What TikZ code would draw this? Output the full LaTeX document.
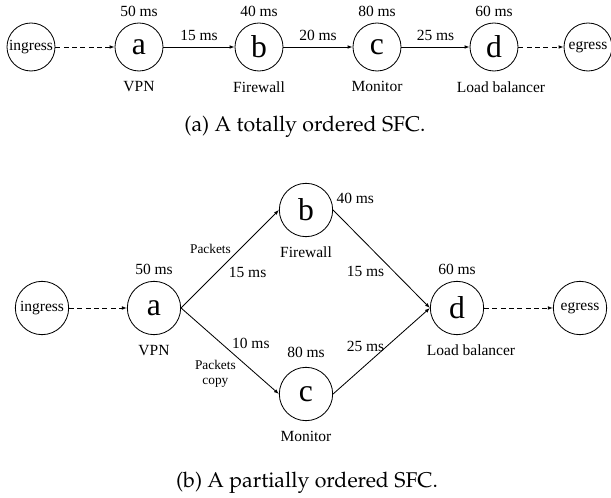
\documentclass[tikz,border=0pt]{standalone}
\usepackage[T1]{fontenc}
\usepackage{fontspec}
\setmainfont{Liberation Serif}
\usetikzlibrary{arrows.meta,positioning}
\newcommand\capfont{\fontencoding{T1}\fontfamily{ppl}\fontsize{12.8}{15}\selectfont}
\newcommand\lblfont{\fontsize{9.3}{11}\selectfont}

\begin{document}
\begin{tikzpicture}[font=\lblfont, ->, >={Latex[length=3pt,width=2.2pt]}, line width=0.5pt, on grid,
    every label/.style={font=\lblfont}]
      \tikzstyle{vnf}   = [circle, draw, inner sep=0, minimum size=28.8pt, font=\fontsize{19}{20}\selectfont]
      \tikzstyle{port}  = [circle, draw, inner sep=0, minimum size=28.8pt]
      \tikzstyle{vnfb}  = [vnf, minimum size=32pt]
      \tikzstyle{portb} = [port, minimum size=32pt]
      \tikzstyle{delay} = [label=above:#1]
      \tikzstyle{role}  = [label={[label distance=2.4pt]below:#1}]
      \tikzstyle{desc}  = [midway, above]
      \tikzstyle{small} = [font=\fontsize{8}{9}\selectfont, align=center]
      \tikzstyle{io}    = [dash pattern=on 3pt off 2pt]

      \useasboundingbox (0,0) rectangle (366.6pt,-298.8pt);

      % (a) totally ordered
      \node[port]                                                  (ing1) at (18.6pt,-28.2pt) {ingress};
      \node[vnf, right=64.8pt of ing1, delay=50 ms, role=VPN]      (a1)   {a};
      \node[vnf, right=72pt of a1, delay=40 ms, role=Firewall]     (b1)   {b};
      \node[vnf, right=70.8pt of b1, delay=80 ms, role=Monitor]    (c1)   {c};
      \node[vnf, right=70.2pt of c1, delay=60 ms,
            label={[label distance=2.4pt, xshift=4.2pt]below:Load balancer}] (d1) {d};
      \node[port, right=56.4pt of d1]                              (egr1) {egress};

      \draw[io] (ing1) -- (a1);
      \draw (a1) -- (b1) node[desc] {15 ms};
      \draw (b1) -- (c1) node[desc] {20 ms};
      \draw (c1) -- (d1) node[desc] {25 ms};
      \draw[io] (d1) -- (egr1);

      \node[font=\capfont] (capa) at (183pt,-76.2pt) {(a) A totally ordered SFC.};

      % (b) partially ordered
      \node[portb]                                                 (ing2) at (25.2pt,-184.8pt) {ingress};
      \node[vnfb, right=67.2pt of ing2, delay=50 ms, role=VPN]     (a2)   {a};
      \node[vnfb, above right=58.8pt and 91.2pt of a2,
            label={[anchor=west]25:40 ms}, role=Firewall]          (b2)   {b};
      \node[vnfb, below right=51.6pt and 91.2pt of a2,
            label={[label distance=2pt]above:80 ms}, role=Monitor] (c2)   {c};
      \node[vnfb, right=181.8pt of a2, delay=60 ms,
            label={[label distance=2.4pt, xshift=8.4pt]below:Load balancer}] (d2) {d};
      \node[portb, right=73.8pt of d2]                             (egr2) {egress};

      \draw[io] (ing2) -- (a2);
      \draw (a2.east) -- (b2.west) node[pos=0.53, above left, small, inner sep=1pt] {Packets}
                                   node[pos=0.45, below right, inner sep=2pt]       {15 ms};
      \draw (a2.east) -- (c2.west) node[midway, above right, inner sep=1pt]         {10 ms}
                                   node[pos=0.58, below left, small, inner sep=1pt] {Packets\\copy};
      \draw (b2.east) -- (d2.west) node[pos=0.55, below left, inner sep=1pt]        {15 ms};
      \draw (c2.east) -- (d2.west) node[pos=0.55, left, inner sep=1pt]              {25 ms};
      \draw[io] (d2) -- (egr2);

      \node[font=\capfont] (capb) at (184.2pt,-289.8pt) {(b) A partially ordered SFC.};
    \end{tikzpicture}
\end{document}
